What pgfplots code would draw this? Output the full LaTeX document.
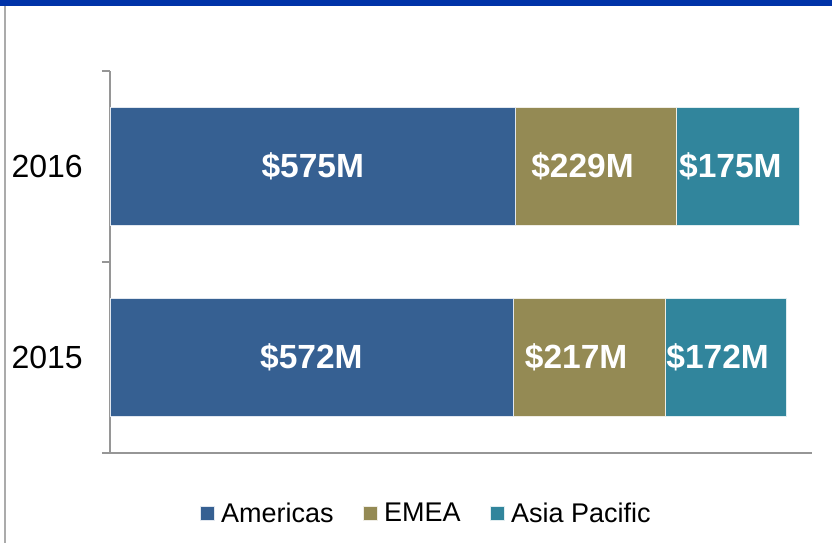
\documentclass[border=0pt]{standalone}
\usepackage{pgfplots}
\pgfplotsset{compat=1.18}
\usepackage{fontspec}
\setmainfont{Liberation Sans}
\definecolor{amer}{HTML}{366092}
\definecolor{emea}{HTML}{948A54}
\definecolor{apac}{HTML}{31859C}
\definecolor{topblue}{HTML}{0033A8}
\definecolor{axgray}{HTML}{969696}
\begin{document}
\begin{tikzpicture}
\useasboundingbox (0,0) rectangle (832pt,543pt);
\fill[topblue] (0,537pt) rectangle (832pt,543pt);
\draw[axgray!80, line width=2pt] (5pt,0) -- (5pt,537pt);
\begin{axis}[
 at={(110pt,90pt)}, anchor=south west,
 scale only axis, width=702pt, height=382pt,
 xmin=0, xmax=997, ymin=0.5, ymax=2.5,
 xbar stacked, bar width=118pt,
 axis x line*=bottom, axis y line*=left,
 axis line style={axgray, line width=1.5pt},
 xtick=\empty,
 ytick={0.5,1.5,2.5}, yticklabels={},
 major tick length=8pt, tick align=outside,
 tick style={axgray, line width=1.5pt},
 extra y ticks={1,2}, extra y tick labels={2015,2016},
 extra y tick style={tick style={draw=none}},
 yticklabel style={font=\fontsize{32}{38}\selectfont, inner sep=0pt, xshift=-19pt},
 legend style={draw=none, fill=none, at={(0.449,-0.157)}, anchor=center, legend columns=3,
   font=\fontsize{27}{32}\selectfont,
   /tikz/every odd column/.append style={column sep=7pt},
   /tikz/every even column/.append style={column sep=29pt},
   nodes={inner sep=0pt}},
 legend image code/.code={\fill[#1] (0pt,-7pt) rectangle (14pt,7pt);},
]
\addplot[fill=amer, draw=white!85!amer, line width=0.5pt] coordinates {(572,1) (575,2)};
\addlegendentry{Americas}
\addplot[fill=emea, draw=white!85!emea, line width=0.5pt] coordinates {(217,1) (229,2)};
\addlegendentry{EMEA}
\addplot[fill=apac, draw=white!85!apac, line width=0.5pt] coordinates {(172,1) (175,2)};
\addlegendentry{Asia Pacific}
\end{axis}
\begin{axis}[
 at={(110pt,90pt)}, anchor=south west,
 scale only axis, width=702pt, height=382pt,
 xmin=0, xmax=997, ymin=0.5, ymax=2.5,
 hide axis, clip=false,
]
\addplot[draw=none, mark=none,
  nodes near coords, point meta=explicit symbolic,
  nodes near coords style={anchor=center, text=white, inner sep=0pt, font=\fontsize{33.5}{40}\selectfont\bfseries}]
  coordinates {(286,1) [\$572M] (662,1) [\$217M] (863,1) [\$172M]
               (288,2) [\$575M] (671,2) [\$229M] (881,2) [\$175M]};
\end{axis}
\end{tikzpicture}
\end{document}
